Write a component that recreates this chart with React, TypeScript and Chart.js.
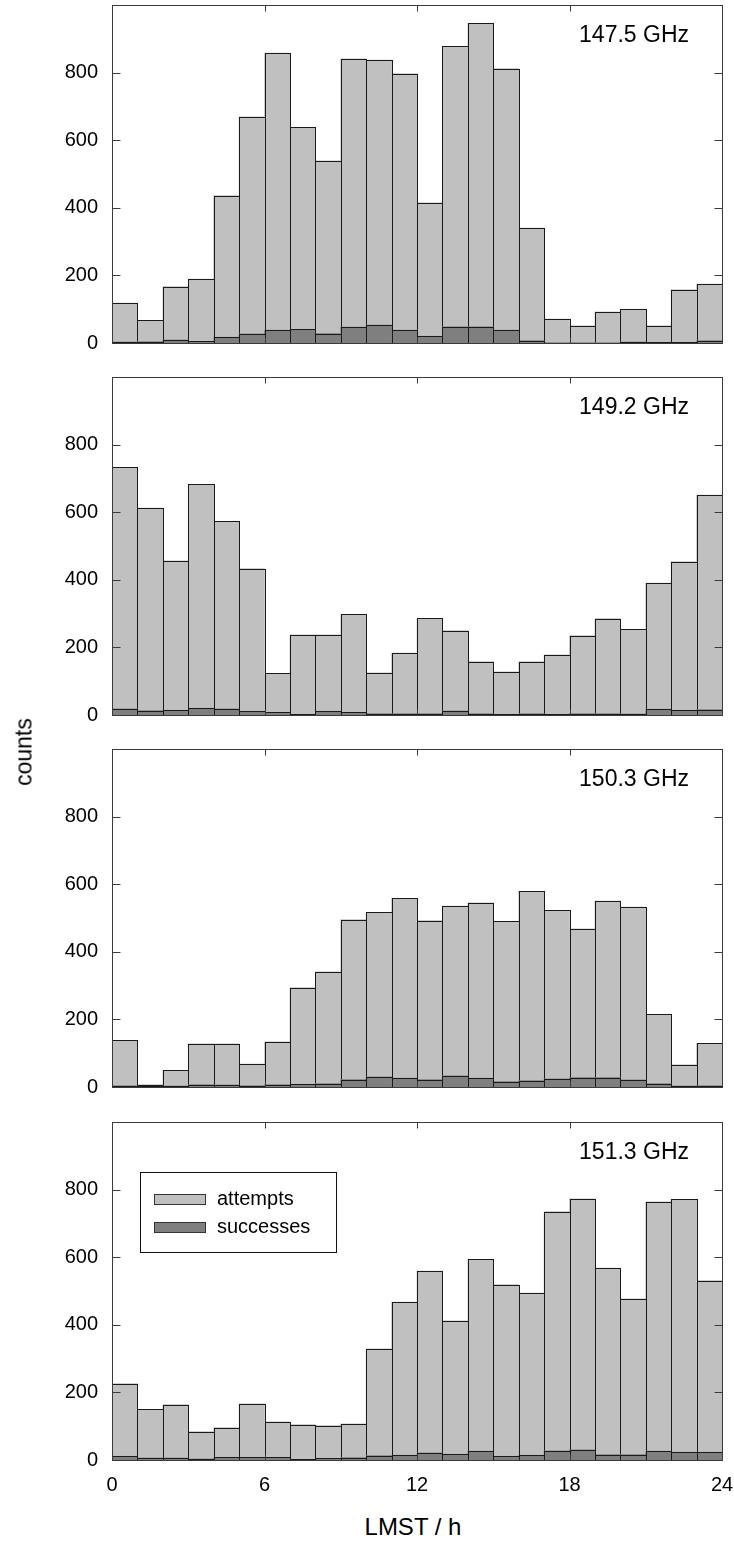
import React, { useEffect, useRef } from "react";
import { Chart, registerables } from "chart.js";

Chart.register(...registerables);

// ---- data ----
const binCenters = [0.5, 1.5, 2.5, 3.5, 4.5, 5.5, 6.5, 7.5, 8.5, 9.5, 10.5, 11.5, 12.5, 13.5, 14.5, 15.5, 16.5, 17.5, 18.5, 19.5, 20.5, 21.5, 22.5, 23.5];
const xTicks = [0, 6, 12, 18, 24];
const yTicks = [0, 200, 400, 600, 800];
const yMax = 1000;
const panelLabels = ["147.5 GHz", "149.2 GHz", "150.3 GHz", "151.3 GHz"];
const legendLabels = ["attempts", "successes"];

const attempts1475 = [118, 67, 167, 189, 436, 669, 858, 638, 539, 841, 837, 797, 415, 878, 946, 812, 340, 71, 51, 92, 100, 51, 158, 174];
const successes1475 = [3, 4, 9, 5, 17, 27, 38, 40, 28, 47, 53, 38, 20, 48, 48, 38, 7, 1, 1, 1, 3, 2, 2, 7];

const attempts1492 = [733, 612, 456, 682, 573, 433, 123, 237, 237, 298, 125, 183, 286, 250, 158, 128, 158, 178, 235, 285, 253, 390, 454, 651];
const successes1492 = [18, 13, 14, 20, 18, 11, 8, 2, 11, 8, 4, 4, 4, 12, 4, 2, 4, 2, 4, 4, 3, 17, 14, 16];

const attempts1503 = [138, 7, 49, 128, 128, 68, 134, 294, 341, 495, 517, 558, 492, 535, 545, 490, 579, 523, 468, 550, 532, 215, 66, 129];
const successes1503 = [4, 2, 3, 7, 6, 4, 7, 8, 10, 22, 30, 26, 22, 33, 26, 16, 19, 24, 28, 28, 21, 10, 3, 4];

const attempts1513 = [226, 150, 164, 84, 96, 166, 113, 105, 102, 107, 329, 467, 559, 412, 594, 519, 494, 735, 773, 568, 477, 764, 771, 531];
const successes1513 = [11, 6, 6, 3, 8, 8, 8, 2, 5, 7, 13, 14, 21, 17, 26, 11, 14, 27, 30, 16, 16, 26, 23, 23];

const attemptsSeries = [attempts1475, attempts1492, attempts1503, attempts1513];
const successesSeries = [successes1475, successes1492, successes1503, successes1513];

// ---- style ----
const FONT = '"Liberation Sans", Arial, Helvetica, sans-serif';
const ATTEMPT_COLOR = "#c0c0c0";
const SUCCESS_COLOR = "#7f7f7f";
const OUTLINE = "#1a1a1a";
const FRAME = "#3a3a3a";

const PAGE_W = 734;
const PLOT_LEFT = 112;
const PLOT_RIGHT = 722;
const CANVAS_W = 770;
const PANEL_H = 338;
const PANEL_TOPS = [5, 377, 749, 1122];
const PAD_V = 32;
const XAXIS_H = 40;

type PanelProps = {
  index: number;
};

function Panel({ index }: PanelProps) {
  const ref = useRef<HTMLCanvasElement | null>(null);
  const isLast = index === 3;
  const canvasH = PAD_V + PANEL_H + (isLast ? XAXIS_H : PAD_V);

  useEffect(() => {
    if (!ref.current) return;
    const attempts = attemptsSeries[index];
    const successes = successesSeries[index];
    const label = panelLabels[index];

    const outlinePlugin = {
      id: "outline" + index,
      afterDatasetDraw(chart: any, args: any) {
        const ctx = chart.ctx;
        const meta = args.meta;
        ctx.save();
        ctx.strokeStyle = OUTLINE;
        ctx.lineWidth = 1;
        meta.data.forEach((el: any) => {
          const p = el.getProps(["x", "y", "base", "width"], true);
          const x0 = Math.round(p.x - p.width / 2) + 0.5;
          const x1 = Math.round(p.x + p.width / 2) + 0.5;
          const y0 = Math.round(p.y) + 0.5;
          const y1 = Math.round(p.base) + 0.5;
          ctx.strokeRect(x0, y0, x1 - x0, y1 - y0);
        });
        ctx.restore();
      },
    };

    const framePlugin = {
      id: "frame" + index,
      afterDraw(chart: any) {
        const ctx = chart.ctx;
        const a = chart.chartArea;
        const xs = chart.scales.x;
        const ys = chart.scales.y;
        ctx.save();
        ctx.strokeStyle = FRAME;
        ctx.lineWidth = 1;
        const L = Math.round(a.left) + 0.5;
        const R = Math.round(a.right) + 0.5;
        const T = Math.round(a.top) + 0.5;
        const B = Math.round(a.bottom) + 0.5;
        ctx.strokeRect(L, T, R - L, B - T);
        ctx.beginPath();
        yTicks.forEach((v) => {
          if (v === 0) return;
          const y = Math.round(ys.getPixelForValue(v)) + 0.5;
          ctx.moveTo(L, y);
          ctx.lineTo(L + 8, y);
          ctx.moveTo(R, y);
          ctx.lineTo(R - 8, y);
        });
        xTicks.forEach((v) => {
          if (v === xTicks[0] || v === xTicks[xTicks.length - 1]) return;
          const x = Math.round(xs.getPixelForValue(v)) + 0.5;
          ctx.moveTo(x, T);
          ctx.lineTo(x, T + 6);
          ctx.moveTo(x, B);
          ctx.lineTo(x, B - 6);
        });
        ctx.stroke();

        // panel label
        ctx.fillStyle = "#000";
        ctx.font = `23px ${FONT}`;
        ctx.textAlign = "right";
        ctx.textBaseline = "middle";
        ctx.fillText(label, a.right - 33, a.top + 31);

        // legend
        if (isLast) {
          const bx = a.left + 28;
          const by = a.top + 50;
          ctx.lineWidth = 1;
          ctx.strokeStyle = "#111";
          ctx.strokeRect(Math.round(bx) + 0.5, Math.round(by) + 0.5, 196, 80);
          const colors = [ATTEMPT_COLOR, SUCCESS_COLOR];
          legendLabels.forEach((t, i) => {
            const sy = by + 22 + i * 28;
            ctx.fillStyle = colors[i];
            ctx.fillRect(bx + 14, sy, 51, 11);
            ctx.strokeStyle = "#333";
            ctx.strokeRect(Math.round(bx + 14) + 0.5, Math.round(sy) + 0.5, 51, 10);
            ctx.fillStyle = "#000";
            ctx.font = `20px ${FONT}`;
            ctx.textAlign = "left";
            ctx.textBaseline = "middle";
            ctx.fillText(t, bx + 77, sy + 5.5);
          });
        }
        ctx.restore();
      },
    };

    const xScale: any = {
      type: "linear",
      min: xTicks[0],
      max: xTicks[xTicks.length - 1],
      offset: false,
      display: isLast,
      grid: { display: false, drawTicks: false },
      border: { display: false },
      afterBuildTicks: (s: any) => {
        s.ticks = xTicks.map((v) => ({ value: v }));
      },
      ticks: {
        padding: 13,
        maxRotation: 0,
        autoSkip: false,
        color: "#000",
        font: { family: FONT, size: 20 },
      },
    };
    if (isLast) {
      xScale.afterFit = (s: any) => {
        s.height = XAXIS_H;
      };
    }

    const chart = new Chart(ref.current, {
      type: "bar",
      data: {
        datasets: [
          {
            label: legendLabels[0],
            data: attempts.map((v, i) => ({ x: binCenters[i], y: v })),
            backgroundColor: ATTEMPT_COLOR,
            borderWidth: 0,
            order: 2,
            grouped: false,
            barPercentage: 1,
            categoryPercentage: 1,
          },
          {
            label: legendLabels[1],
            data: successes.map((v, i) => ({ x: binCenters[i], y: v })),
            backgroundColor: SUCCESS_COLOR,
            borderWidth: 0,
            order: 1,
            grouped: false,
            barPercentage: 1,
            categoryPercentage: 1,
          },
        ],
      },
      options: {
        responsive: false,
        animation: false,
        events: [],
        layout: {
          padding: {
            left: 0,
            right: CANVAS_W - PLOT_RIGHT,
            top: PAD_V,
            bottom: isLast ? 0 : PAD_V,
          },
        },
        plugins: {
          legend: { display: false },
          tooltip: { enabled: false },
          title: { display: false },
        },
        scales: {
          x: xScale,
          y: {
            type: "linear",
            min: 0,
            max: yMax,
            grid: { display: false, drawTicks: false },
            border: { display: false },
            afterBuildTicks: (s: any) => {
              s.ticks = yTicks.map((v) => ({ value: v }));
            },
            afterFit: (s: any) => {
              s.width = PLOT_LEFT;
            },
            ticks: {
              padding: 14,
              color: "#000",
              font: { family: FONT, size: 20 },
            },
          },
        },
      },
      plugins: [outlinePlugin, framePlugin],
    } as any);

    return () => chart.destroy();
  }, [index]);

  return (
    <canvas
      ref={ref}
      width={CANVAS_W}
      height={canvasH}
      style={{
        position: "absolute",
        left: 0,
        top: PANEL_TOPS[index] - PAD_V,
        width: CANVAS_W,
        height: canvasH,
      }}
    />
  );
}

export default function App() {
  return (
    <div
      style={{
        position: "absolute",
        left: 0,
        top: 0,
        width: PAGE_W,
        height: 1543,
        overflow: "hidden",
        background: "#fff",
        fontFamily: FONT,
      }}
    >
      {[0, 1, 2, 3].map((i) => (
        <Panel key={i} index={i} />
      ))}
      <div
        style={{
          position: "absolute",
          left: 24,
          top: 752,
          transform: "translate(-50%, -50%) rotate(-90deg)",
          fontSize: 23,
          whiteSpace: "nowrap",
          color: "#000",
          lineHeight: 1,
        }}
      >
        counts
      </div>
      <div
        style={{
          position: "absolute",
          left: 413,
          top: 1527,
          transform: "translate(-50%, -50%)",
          fontSize: 24,
          whiteSpace: "nowrap",
          color: "#000",
          lineHeight: 1,
        }}
      >
        LMST / h
      </div>
    </div>
  );
}
